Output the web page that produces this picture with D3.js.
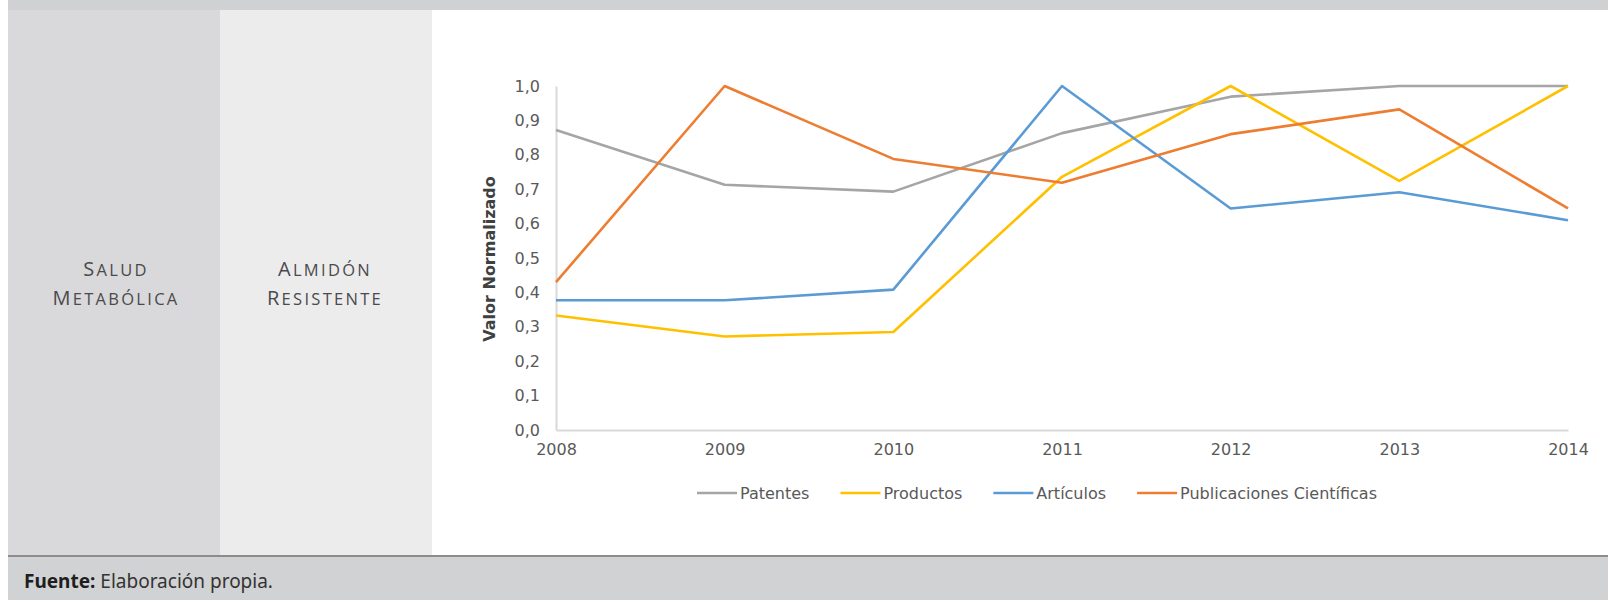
<!DOCTYPE html>
<html>
<head>
<meta charset="utf-8">
<script src="https://cdn.jsdelivr.net/npm/d3@7"></script>
<style>
  html, body { margin: 0; padding: 0; background: #ffffff; }
  svg { display: block; }
</style>
</head>
<body>
<svg id="chart" width="1608" height="600"></svg>
<script>
// ---- data ----
const years = ["2008", "2009", "2010", "2011", "2012", "2013", "2014"];
const patentes = [0.872, 0.713, 0.693, 0.863, 0.969, 1.0, 1.0];
const productos = [0.333, 0.272, 0.285, 0.736, 1.0, 0.724, 1.0];
const articulos = [0.377, 0.377, 0.408, 1.0, 0.644, 0.691, 0.610];
const publicaciones = [0.430, 1.0, 0.788, 0.719, 0.860, 0.932, 0.644];
const seriesNames = ["Patentes", "Productos", "Artículos", "Publicaciones Científicas"];
const yTicks = [0, 0.1, 0.2, 0.3, 0.4, 0.5, 0.6, 0.7, 0.8, 0.9, 1.0];
const yTitle = "Valor Normalizado";
const col1Lines = ["Salud", "Metabólica"];
const col2Lines = ["Almidón", "Resistente"];
const sourceBold = "Fuente:";
const sourceText = " Elaboración propia.";

const seriesValues = [patentes, productos, articulos, publicaciones];
const colors = ["#a5a5a5", "#ffc000", "#5b9bd5", "#ed7d31"];

const svg = d3.select("#chart");

// ---- table background ----
svg.append("rect").attr("x", 8).attr("y", 0).attr("width", 1600).attr("height", 10).attr("fill", "#d0d1d3");
svg.append("rect").attr("x", 8).attr("y", 10).attr("width", 212).attr("height", 545).attr("fill", "#d9d8da");
svg.append("rect").attr("x", 220).attr("y", 10).attr("width", 212).attr("height", 545).attr("fill", "#edeced");
svg.append("rect").attr("x", 8).attr("y", 557).attr("width", 1600).attr("height", 43).attr("fill", "#d1d2d4");
svg.append("rect").attr("x", 8).attr("y", 555).attr("width", 1600).attr("height", 2).attr("fill", "#8c8c8c");

// ---- small caps cell labels ----
function smallCaps(lines, cx) {
  lines.forEach((ln, i) => {
    const t = svg.append("text")
      .attr("x", cx).attr("y", 276 + i * 29)
      .attr("text-anchor", "middle")
      .attr("fill", "#4a4a4c")
      .style("font-family", "'Open Sans', sans-serif")
      .style("letter-spacing", "2.3px");
    t.append("tspan").style("font-size", "20px").text(ln.charAt(0));
    t.append("tspan").style("font-size", "16.5px").style("text-transform", "uppercase").text(ln.slice(1));
  });
}
smallCaps(col1Lines, 116);
smallCaps(col2Lines, 325);

// ---- footer ----
const ft = svg.append("text").attr("x", 24).attr("y", 588)
  .style("font-family", "'Noto Sans', 'Open Sans', sans-serif").style("font-size", "19px").attr("fill", "#2a2a2a");
ft.append("tspan").style("font-weight", "bold").attr("fill", "#1e1e1e").text(sourceBold);
ft.append("tspan").attr("fill", "#333333").text(sourceText);

// ---- chart ----
const x = d3.scalePoint().domain(years).range([556, 1568]);
const y = d3.scaleLinear().domain([0, 1]).range([430, 86]);

const font = "'DejaVu Sans', Verdana, sans-serif";
const textCol = "#595959";

// axes
const yAxis = svg.append("g").attr("transform", `translate(${x(years[0])},0)`)
  .call(d3.axisLeft(y).tickValues(yTicks).tickSize(0).tickPadding(16)
    .tickFormat(d => d3.format(".1f")(d).replace(".", ",")));
yAxis.select(".domain").attr("stroke", "#d9d9d9").attr("stroke-width", 2);
yAxis.selectAll("text").style("font-family", font).style("font-size", "16px").attr("fill", textCol);

const xAxis = svg.append("g").attr("transform", `translate(0,${y(0)})`)
  .call(d3.axisBottom(x).tickSize(0).tickPadding(14));
xAxis.select(".domain").attr("stroke", "#d9d9d9").attr("stroke-width", 2);
xAxis.selectAll("text").style("font-family", font).style("font-size", "16px").attr("fill", textCol);

// y title
svg.append("text")
  .attr("transform", `translate(495,${(y(0) + y(1)) / 2 + 1}) rotate(-90)`)
  .attr("text-anchor", "middle")
  .style("font-family", font).style("font-size", "16px").style("font-weight", "bold")
  .attr("fill", "#404040")
  .text(yTitle);

// lines
const line = d3.line().x((d, i) => x(years[i])).y(d => y(d));
seriesValues.forEach((vals, k) => {
  svg.append("path")
    .datum(vals)
    .attr("d", line)
    .attr("fill", "none")
    .attr("stroke", colors[k])
    .attr("stroke-width", 2.6)
    .attr("stroke-linejoin", "round");
});

// legend
const legend = svg.append("g").attr("transform", "translate(697,493)");
let lx = 0;
seriesNames.forEach((name, k) => {
  const g = legend.append("g").attr("transform", `translate(${lx},0)`);
  g.append("line").attr("x1", 0).attr("x2", 40).attr("y1", 0).attr("y2", 0)
    .attr("stroke", colors[k]).attr("stroke-width", 2.6);
  const t = g.append("text").attr("x", 43).attr("y", 0).attr("dy", "0.35em")
    .style("font-family", font).style("font-size", "16px").attr("fill", textCol).text(name);
  lx += 43 + t.node().getComputedTextLength() + 31;
});
</script>
</body>
</html>
